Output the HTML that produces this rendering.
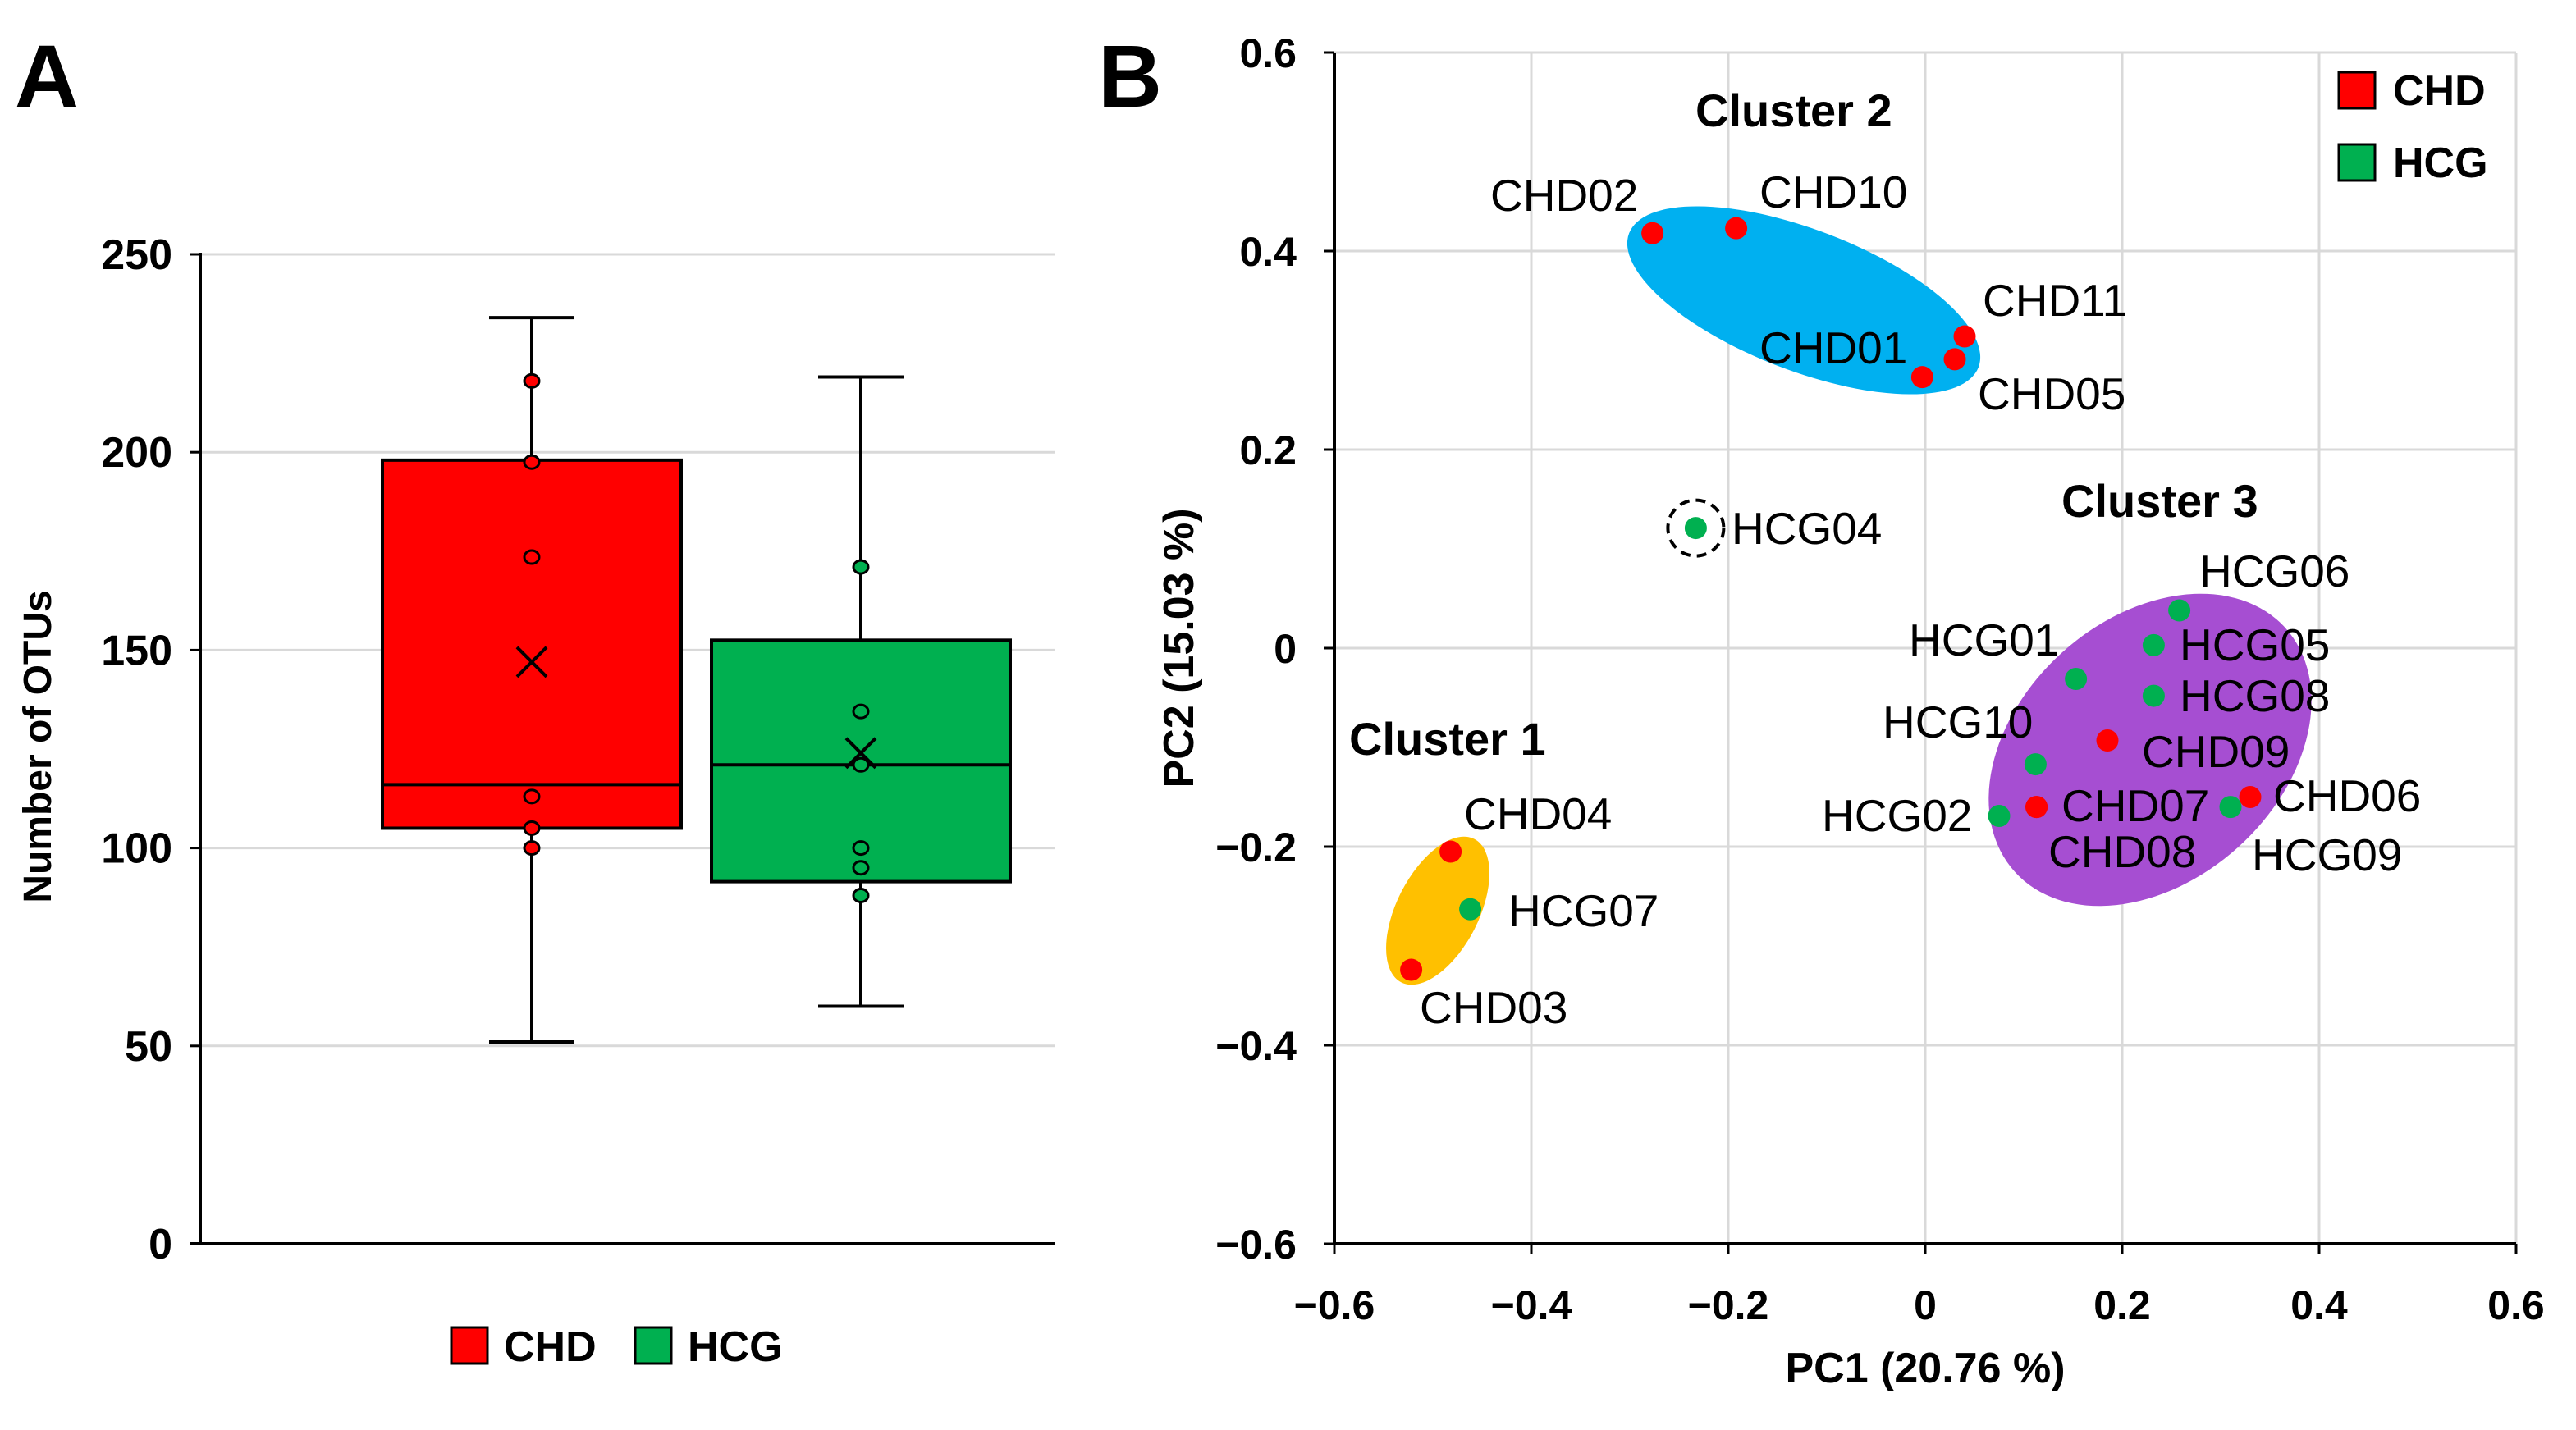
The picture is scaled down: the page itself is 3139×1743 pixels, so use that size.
<!DOCTYPE html>
<html><head><meta charset="utf-8"><style>
html,body{margin:0;padding:0;background:#fff;}
svg{display:block;font-family:"Liberation Sans",Arial,sans-serif;}
</style></head><body>
<svg id="chart" width="3139" height="1743" viewBox="0 0 3139 1743" xmlns="http://www.w3.org/2000/svg">
<rect width="3139" height="1743" fill="#fff"/>
<text x="18" y="130" font-size="108" font-weight="bold">A</text>
<text x="1338" y="130" font-size="108" font-weight="bold">B</text>
<g id="pa"></g>
<g id="pb"></g>
</svg>
<script>
// ---- Panel A data ----
const boxGroups = ['CHD','HCG'];
const boxColors = ['#ff0000','#00b050'];
const whiskerTop = [234, 219];
const q3Vals = [198, 152.5];
const medianVals = [116, 121];
const q1Vals = [105, 91.5];
const whiskerBottom = [51, 60];
const meanVals = [147, 124];
const chdPoints = [218, 197.5, 173.5, 113, 105, 100];
const hcgPoints = [171, 134.5, 121, 100, 95, 88];
const yTicksA = [0, 50, 100, 150, 200, 250];

// ---- Panel B data ----
const sampleNames = ['CHD02','CHD10','CHD11','CHD05','CHD01','HCG04','CHD04','HCG07','CHD03','HCG06','HCG05','HCG01','HCG08','CHD09','HCG10','CHD07','CHD08','HCG02','HCG09','CHD06'];
const pc1Vals = [-0.277,-0.192,0.04,0.03,-0.003,-0.233,-0.482,-0.462,-0.522,0.258,0.232,0.153,0.232,0.185,0.112,0.113,0.113,0.075,0.31,0.33];
const pc2Vals = [0.418,0.423,0.314,0.291,0.273,0.121,-0.205,-0.263,-0.324,0.038,0.003,-0.031,-0.048,-0.093,-0.117,-0.16,-0.16,-0.169,-0.16,-0.15];
const sampleGroups = ['CHD','CHD','CHD','CHD','CHD','HCG','CHD','HCG','CHD','HCG','HCG','HCG','HCG','CHD','HCG','CHD','CHD','HCG','HCG','CHD'];
const xTicksB = [-0.6,-0.4,-0.2,0,0.2,0.4,0.6];
const yTicksB = [-0.6,-0.4,-0.2,0,0.2,0.4,0.6];
const xTickLabelsB = ['\u22120.6','\u22120.4','\u22120.2','0','0.2','0.4','0.6'];
const yTickLabelsB = ['\u22120.6','\u22120.4','\u22120.2','0','0.2','0.4','0.6'];

const NS='http://www.w3.org/2000/svg';
function mk(parent, tag, attrs, text){
  const e=document.createElementNS(NS,tag);
  for(const k in attrs) e.setAttribute(k,attrs[k]);
  if(text!==undefined) e.textContent=text;
  parent.appendChild(e); return e;
}

// ---------- Panel A ----------
const pa=document.getElementById('pa');
const yA=v=>1516-(v/250)*1206;
const centersA=[648,1049];
const boxHalf=182, capHalf=52;
yTicksA.forEach(t=>{
  if(t>0){const g=mk(pa,'line',{x1:244,x2:1286,y1:yA(t),y2:yA(t),stroke:'#d9d9d9','stroke-width':3});
  
  }
  const tl=mk(pa,'text',{x:210,y:yA(t)+18,'text-anchor':'end','font-size':52,'font-weight':'bold'},String(t));
  
  
  const tk=mk(pa,'line',{x1:231,x2:244,y1:yA(t),y2:yA(t),stroke:'#000','stroke-width':3});
  
  
});
boxGroups.forEach((g,i)=>{
  const cx=centersA[i];
  const grp=mk(pa,'g',{});
  
  
  mk(grp,'line',{x1:cx,x2:cx,y1:yA(whiskerTop[i]),y2:yA(q3Vals[i]),stroke:'#000','stroke-width':4});
  mk(grp,'line',{x1:cx,x2:cx,y1:yA(q1Vals[i]),y2:yA(whiskerBottom[i]),stroke:'#000','stroke-width':4});
  mk(grp,'line',{x1:cx-capHalf,x2:cx+capHalf,y1:yA(whiskerTop[i]),y2:yA(whiskerTop[i]),stroke:'#000','stroke-width':4});
  mk(grp,'line',{x1:cx-capHalf,x2:cx+capHalf,y1:yA(whiskerBottom[i]),y2:yA(whiskerBottom[i]),stroke:'#000','stroke-width':4});
  mk(grp,'rect',{x:cx-boxHalf,y:yA(q3Vals[i]),width:boxHalf*2,height:yA(q1Vals[i])-yA(q3Vals[i]),fill:boxColors[i],stroke:'#000','stroke-width':4});
  mk(grp,'line',{x1:cx-boxHalf,x2:cx+boxHalf,y1:yA(medianVals[i]),y2:yA(medianVals[i]),stroke:'#000','stroke-width':4});
  const pts=i===0?chdPoints:hcgPoints;
  pts.forEach(v=>{
    const c=mk(grp,'ellipse',{cx:cx,cy:yA(v),rx:9,ry:8,fill:boxColors[i],stroke:'#000','stroke-width':3});
    
    
  });
  const my=yA(meanVals[i]);
  const m=mk(grp,'path',{d:`M${cx-18} ${my-18}L${cx+18} ${my+18}M${cx+18} ${my-18}L${cx-18} ${my+18}`,stroke:'#000','stroke-width':4,fill:'none'});
  
  
});
mk(pa,'line',{x1:244,x2:244,y1:yA(250)-2,y2:yA(0),stroke:'#000','stroke-width':4});
mk(pa,'line',{x1:231,x2:1286,y1:yA(0),y2:yA(0),stroke:'#000','stroke-width':4});
const ytA=mk(pa,'text',{x:0,y:0,transform:'translate(62,910) rotate(-90)','text-anchor':'middle','font-size':48,'font-weight':'bold'},'Number of OTUs');


const legA=[[550,614,'CHD'],[774,838,'HCG']];
legA.forEach((l,i)=>{
  const g=mk(pa,'g',{});
  
  
  mk(g,'rect',{x:l[0],y:1618,width:44,height:44,fill:boxColors[i],stroke:'#000','stroke-width':3});
  mk(g,'text',{x:l[1],y:1659,'font-size':52,'font-weight':'bold'},l[2]);
});

// ---------- Panel B ----------
const pb=document.getElementById('pb');
const xB=v=>2346+v*1200;
const yB=v=>790-v*1210;
xTicksB.forEach((t,i)=>{
  const g=mk(pb,'line',{x1:xB(t),x2:xB(t),y1:yB(0.6),y2:yB(-0.6),stroke:'#d9d9d9','stroke-width':3});
  
  
  const tk=mk(pb,'line',{x1:xB(t),x2:xB(t),y1:yB(-0.6),y2:yB(-0.6)+13,stroke:'#000','stroke-width':3});
  
  
  const tl=mk(pb,'text',{x:xB(t),y:1608,'text-anchor':'middle','font-size':50,'font-weight':'bold'},xTickLabelsB[i]);
  
  
});
yTicksB.forEach((t,i)=>{
  const g=mk(pb,'line',{x1:xB(-0.6),x2:xB(0.6),y1:yB(t),y2:yB(t),stroke:'#d9d9d9','stroke-width':3});
  
  
  const tk=mk(pb,'line',{x1:xB(-0.6)-13,x2:xB(-0.6),y1:yB(t),y2:yB(t),stroke:'#000','stroke-width':3});
  
  
  const tl=mk(pb,'text',{x:1580,y:yB(t)+18,'text-anchor':'end','font-size':50,'font-weight':'bold'},yTickLabelsB[i]);
  
  
});
mk(pb,'line',{x1:xB(-0.6),x2:xB(-0.6),y1:yB(0.6),y2:yB(-0.6),stroke:'#000','stroke-width':4});
mk(pb,'line',{x1:xB(-0.6),x2:xB(0.6),y1:yB(-0.6),y2:yB(-0.6),stroke:'#000','stroke-width':4});

// cluster ellipses
const e1=mk(pb,'ellipse',{cx:2198,cy:366,rx:228,ry:86,fill:'#00b0f0',transform:'rotate(21 2198 366)'});


const e2=mk(pb,'ellipse',{cx:2620,cy:914,rx:222,ry:160,fill:'#a64ed2',transform:'rotate(-42 2620 914)'});


const e3=mk(pb,'ellipse',{cx:1752,cy:1110,rx:98,ry:50,fill:'#ffc000',transform:'rotate(-63 1752 1110)'});


const dc=mk(pb,'circle',{cx:xB(-0.233),cy:yB(0.121),r:34,fill:'none',stroke:'#000','stroke-width':4,'stroke-dasharray':'12 8'});



// points
sampleNames.forEach((n,i)=>{
  const c=mk(pb,'circle',{cx:xB(pc1Vals[i]),cy:yB(pc2Vals[i]),r:13.5,fill:sampleGroups[i]==='CHD'?'#ff0000':'#00b050'});
  
  
});
// point labels (text placement)
const labelPos={CHD02:[1816,257],CHD10:[2144,253],CHD11:[2416,385],CHD05:[2410,499],CHD01:[2144,443],HCG04:[2110,663],
CHD04:[1784,1011],HCG07:[1838,1129],CHD03:[1730,1247],HCG06:[2680,715],HCG05:[2656,805],HCG01:[2326,799],HCG08:[2656,867],
CHD09:[2610,935],HCG10:[2294,899],CHD07:[2512,1001],CHD08:[2496,1057],HCG02:[2220,1013],HCG09:[2744,1061],CHD06:[2770,989]};
sampleNames.forEach(n=>{
  const p=labelPos[n];
  const t=mk(pb,'text',{x:p[0],y:p[1],'font-size':55},n);
  
  
});
[['Cluster 1',1644,920],['Cluster 2',2066,154],['Cluster 3',2512,630]].forEach(c=>{
  const t=mk(pb,'text',{x:c[1],y:c[2],'font-size':56,'font-weight':'bold'},c[0]);
  
  
});
// legend
[['CHD','#ff0000',88],['HCG','#00b050',176]].forEach(l=>{
  const g=mk(pb,'g',{});
  
  
  mk(g,'rect',{x:2850,y:l[2],width:44,height:44,fill:l[1],stroke:'#000','stroke-width':3});
  mk(g,'text',{x:2916,y:l[2]+40,'font-size':52,'font-weight':'bold'},l[0]);
});
const xt=mk(pb,'text',{x:2346,y:1685,'text-anchor':'middle','font-size':52,'font-weight':'bold'},'PC1 (20.76 %)');


const yt=mk(pb,'text',{x:0,y:0,transform:'translate(1454,790) rotate(-90)','text-anchor':'middle','font-size':52,'font-weight':'bold'},'PC2 (15.03 %)');


</script>
</body></html>
